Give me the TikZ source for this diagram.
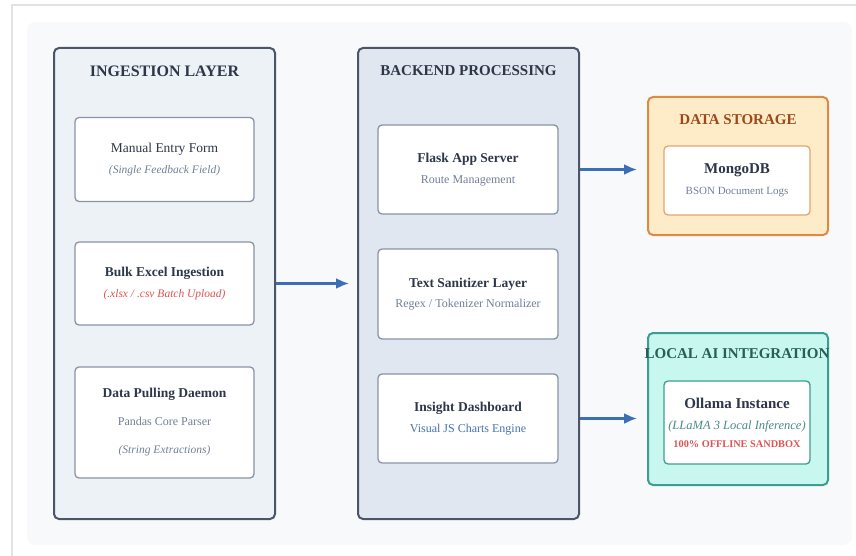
\documentclass[tikz,border=0pt]{standalone}
\usepackage{fontspec}
\setmainfont{Liberation Serif}
\usepackage{tikz}
\usetikzlibrary{arrows.meta}

\definecolor{framegray}{HTML}{E2E2E2}
\definecolor{panelgray}{HTML}{F8F9FA}
\definecolor{headtext}{HTML}{2D3748}
\definecolor{layerline}{HTML}{4A5568}
\definecolor{ingestfill}{HTML}{EDF2F7}
\definecolor{backfill}{HTML}{E0E7F0}
\definecolor{cardline}{HTML}{8A94A6}
\definecolor{subgray}{HTML}{718096}
\definecolor{redtext}{HTML}{E05252}
\definecolor{bluetext}{HTML}{4472B0}
\definecolor{flowblue}{HTML}{3A6FB5}
\definecolor{storfill}{HTML}{FEEBC8}
\definecolor{storline}{HTML}{DD8A45}
\definecolor{storinner}{HTML}{E3A66E}
\definecolor{stortitle}{HTML}{9C4A1A}
\definecolor{aifill}{HTML}{C8F7EF}
\definecolor{ailine}{HTML}{3C9E93}
\definecolor{aititle}{HTML}{285E57}
\definecolor{aitext}{HTML}{4A8A86}

\newcommand{\cardtitle}[1]{{\fontsize{13.5}{16}\selectfont\bfseries #1}}
\newcommand{\cardnote}[2]{{\fontsize{11.5}{14}\selectfont\itshape\color{#1}#2}}
\newcommand{\cardsub}[2]{{\fontsize{12}{14}\selectfont\color{#1}#2}}

\begin{document}
\begin{tikzpicture}[x=1pt,y=-1pt,
  layer/.style={draw=layerline,line width=2pt,rounded corners=5pt},
  card/.style={draw=cardline,fill=white,line width=1.3pt,rounded corners=4pt,
    align=center,text=headtext,font=\fontsize{12}{21}\selectfont},
  head/.style={font=\fontsize{15}{18}\selectfont\bfseries,text=headtext},
  flow/.style={draw=flowblue,line width=2.2pt,-{Latex[length=13pt,width=11pt]}}]

\useasboundingbox (0,0) rectangle (856,556);
\draw[framegray,line width=1.5pt] (12,556) -- (12,5) -- (856,5);
\fill[panelgray,rounded corners=8pt] (27,22) rectangle (852,545);

%ingestion
\node[layer,fill=ingestfill,minimum width=221pt,minimum height=471pt] (ingest) at (164.5,283.5) {};
\node[head,font=\fontsize{16}{18}\selectfont\bfseries] (ingesthead) at (164.5,71) {INGESTION LAYER};
\node[card,minimum width=179pt,minimum height=84pt] (manual) at (164.5,159.5)
  {{\fontsize{13.5}{16}\selectfont Manual Entry Form}\\\cardnote{subgray}{(Single Feedback Field)}};
\node[card,minimum width=179pt,minimum height=83pt] (bulk) at (164.5,283.5)
  {\cardtitle{Bulk Excel Ingestion}\\\cardnote{redtext}{(.xlsx / .csv Batch Upload)}};
\node[card,minimum width=179pt,minimum height=111pt] (daemon) at (164.5,422.5)
  {\cardtitle{Data Pulling Daemon}\\[7pt]\cardsub{subgray}{Pandas Core Parser}\\[7pt]\cardnote{subgray}{(String Extractions)}};

%backend
\node[layer,fill=backfill,minimum width=221pt,minimum height=471pt] (backend) at (468.5,283.5) {};
\node[head] (backhead) at (468.5,71) {BACKEND PROCESSING};
\node[card,minimum width=180pt,minimum height=89pt] (flask) at (468,169.5)
  {\cardtitle{Flask App Server}\\\cardsub{subgray}{Route Management}};
\node[card,minimum width=180pt,minimum height=90pt] (sanitizer) at (468,294)
  {\cardtitle{Text Sanitizer Layer}\\[-1pt]\cardsub{subgray}{Regex / Tokenizer Normalizer}};
\node[card,minimum width=180pt,minimum height=89pt] (dash) at (468,418.5)
  {\cardtitle{Insight Dashboard}\\\cardsub{bluetext}{Visual JS Charts Engine}};

%storage
\node[layer,draw=storline,fill=storfill,minimum width=180pt,minimum height=138pt] (storage) at (738,166) {};
\node[head,text=stortitle] (storhead) at (738,120) {DATA STORAGE};
\node[card,draw=storinner,minimum width=146pt,minimum height=69pt] (mongo) at (737,180.5)
  {{\fontsize{15}{18}\selectfont\bfseries MongoDB}\\\cardsub{subgray}{\fontsize{11}{14}\selectfont BSON Document Logs}};

%local ai
\node[layer,draw=ailine,fill=aifill,minimum width=180pt,minimum height=152pt] (localai) at (738,409) {};
\node[head,text=aititle] (aihead) at (737,354) {LOCAL AI INTEGRATION};
\node[card,draw=ailine,minimum width=146pt,minimum height=83pt] (ollama) at (737,422.5)
  {{\fontsize{15}{18}\selectfont\bfseries Ollama Instance}\\
   {\fontsize{12.5}{14}\selectfont\itshape\color{aitext}(LLaMA 3 Local Inference)}\\[-3pt]
   {\fontsize{10.3}{12}\selectfont\bfseries\color{redtext}100\% OFFLINE SANDBOX}};

%arrows
\draw[flow,shorten >=8pt] (ingest.east |- bulk) -- (backend.west |- bulk);
\draw[flow,shorten >=10pt] (backend.east |- flask) -- (storage.west |- flask);
\draw[flow,shorten >=10pt] (backend.east |- dash) -- (localai.west |- dash);

\end{tikzpicture}
\end{document}
